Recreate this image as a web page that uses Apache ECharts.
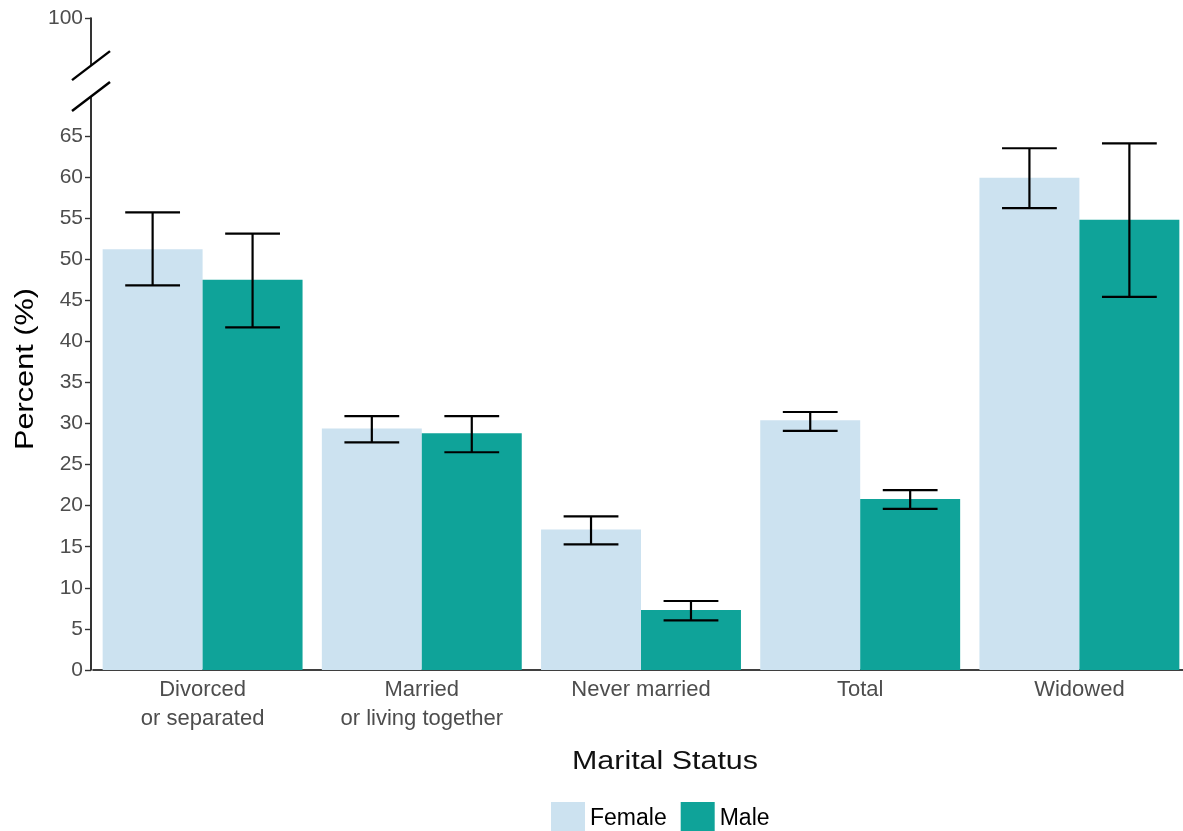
<!DOCTYPE html>
<html><head><meta charset="utf-8">
<script src="https://cdn.jsdelivr.net/npm/echarts@6/dist/echarts.min.js"></script>
<style>html,body{margin:0;padding:0;background:#fff}#c{width:1183px;height:831px}</style>
</head><body><div id="c"></div>
<script>
const categories = ['Divorced\nor separated', 'Married\nor living together', 'Never married', 'Total', 'Widowed'];
const femaleValues = [51.2, 29.4, 17.1, 30.4, 59.9];
const femaleLower  = [46.8, 27.7, 15.3, 29.1, 56.2];
const femaleUpper  = [55.7, 30.9, 18.7, 31.4, 63.5];
const maleValues   = [47.5, 28.8, 7.3, 20.8, 54.8];
const maleLower    = [41.7, 26.5, 6.05, 19.6, 45.4];
const maleUpper    = [53.1, 30.9, 8.4, 21.9, 64.1];
const yTicks = [0, 5, 10, 15, 20, 25, 30, 35, 40, 45, 50, 55, 60, 65, 100];
const breakStart = 69.8, breakEnd = 94.2;

const FEMALE = '#cce2f0', MALE = '#0fa399';
const AXIS_X = 91;
const FONT = 'Liberation Sans, Arial, sans-serif';

const chart = echarts.init(document.getElementById('c'));

function errRender(offset) {
  return function (params, api) {
    const i = api.value(0);
    const lo = api.coord([i, api.value(1)]);
    const hi = api.coord([i, api.value(2)]);
    const band = api.size([1, 0])[0];
    const x = lo[0] + offset * band;
    const half = band * 0.125;
    const style = { stroke: '#000', lineWidth: 2.2 };
    return {
      type: 'group',
      children: [
        { type: 'line', shape: { x1: x, y1: lo[1], x2: x, y2: hi[1] }, style },
        { type: 'line', shape: { x1: x - half, y1: lo[1], x2: x + half, y2: lo[1] }, style },
        { type: 'line', shape: { x1: x - half, y1: hi[1], x2: x + half, y2: hi[1] }, style }
      ]
    };
  };
}

const option = {
  animation: false,
  backgroundColor: '#fff',
  grid: { left: 93, right: -6, top: 18, bottom: 161, containLabel: false, outerBoundsMode: 'none' },
  legend: {
    data: ['Female', 'Male'],
    left: 546, top: 797,
    icon: 'rect', itemWidth: 34, itemHeight: 34, itemGap: 14,
    textStyle: { fontSize: 23, color: '#000', fontFamily: FONT }
  },
  xAxis: {
    type: 'category',
    data: categories,
    axisLine: { lineStyle: { color: '#000', width: 1.6 } },
    axisTick: { alignWithLabel: true, length: 6, lineStyle: { color: '#333', width: 1.4 } },
    axisLabel: { interval: 0, fontSize: 22, lineHeight: 29, margin: 5, color: '#4d4d4d', fontFamily: FONT }
  },
  yAxis: {
    type: 'value', min: 0, max: 100, offset: 2,
    breaks: [{ start: breakStart, end: breakEnd, gap: 3.75 }],
    breakArea: { show: false },
    splitLine: { show: false },
    axisLine: { show: true, lineStyle: { color: '#000', width: 1.6 } },
    axisTick: { show: true, length: 6, customValues: yTicks, lineStyle: { color: '#333', width: 1.4 } },
    axisLabel: { customValues: yTicks, fontSize: 21, color: '#4d4d4d', margin: 8, fontFamily: FONT }
  },
  series: [
    { name: 'Female', type: 'bar', data: femaleValues, barWidth: '45.6%', barGap: '0%',
      itemStyle: { color: FEMALE } },
    { name: 'Male', type: 'bar', data: maleValues, barWidth: '45.6%', barGap: '0%',
      itemStyle: { color: MALE } },
    { name: 'Female CI', type: 'custom', z: 10, renderItem: errRender(-0.228),
      data: categories.map((c, i) => [i, femaleLower[i], femaleUpper[i]]) },
    { name: 'Male CI', type: 'custom', z: 10, renderItem: errRender(0.228),
      data: categories.map((c, i) => [i, maleLower[i], maleUpper[i]]) }
  ]
};
chart.setOption(option);

const yLo = chart.convertToPixel({ yAxisIndex: 0 }, breakStart);
const yHi = chart.convertToPixel({ yAxisIndex: 0 }, breakEnd);
const slash = (y) => ({ type: 'line', z: 100,
  shape: { x1: AXIS_X - 19, y1: y + 14.5, x2: AXIS_X + 19, y2: y - 14.5 },
  style: { stroke: '#000', lineWidth: 2.4 } });
chart.setOption({
  graphic: [
    { type: 'rect', z: 99, shape: { x: AXIS_X - 4, y: yHi, width: 8, height: yLo - yHi },
      style: { fill: '#fff' } },
    slash(yHi), slash(yLo),
    { type: 'text', x: 26, y: 369, rotation: Math.PI / 2, scaleX: 1.18,
      style: { text: 'Percent (%)', fontSize: 26, fill: '#000', align: 'center', verticalAlign: 'middle',
        fontFamily: FONT } },
    { type: 'text', x: 665, y: 762, scaleX: 1.17,
      style: { text: 'Marital Status', fontSize: 26, fill: '#111', align: 'center', verticalAlign: 'middle',
        fontFamily: FONT } }
  ]
});
</script></body></html>
